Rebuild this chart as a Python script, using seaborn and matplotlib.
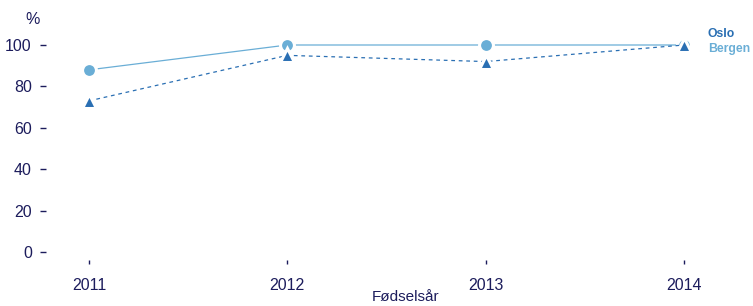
import matplotlib
matplotlib.use("Agg")
import matplotlib.pyplot as plt
import seaborn as sns
import pandas as pd

years = [2011, 2012, 2013, 2014]
oslo = [73, 95, 92, 100]
bergen = [88, 100, 100, 100]
series_names = ["Bergen", "Oslo"]
yticks = [0, 20, 40, 60, 80, 100]

navy = "#1c1c5c"
c_oslo = "#2a6fb3"
c_bergen = "#6aaed6"

df = pd.DataFrame({
    "year": years * 2,
    "value": bergen + oslo,
    "city": ["Bergen"] * len(years) + ["Oslo"] * len(years),
})

sns.set_theme(style="white")
plt.rcParams["font.family"] = ["Liberation Sans", "DejaVu Sans"]

fig = plt.figure(figsize=(7.53, 3.06), dpi=100)
W, H = 753, 306
left_px, right_px = 54, 684
top_px, bot_px = 45, 252
ax = fig.add_axes([left_px / W, 1 - bot_px / H, (right_px - left_px) / W, (bot_px - top_px) / H])

sns.lineplot(
    data=df, x="year", y="value", hue="city", style="city",
    hue_order=series_names, style_order=series_names,
    palette={"Oslo": c_oslo, "Bergen": c_bergen},
    markers={"Oslo": "^", "Bergen": "o"},
    dashes={"Oslo": (3, 3), "Bergen": ""},
    linewidth=0.9, legend=False, ax=ax,
)
for ln in ax.lines:
    ln.set_clip_on(False)
    ln.set_markersize(10)
    ln.set_markeredgecolor("white")
    ln.set_markeredgewidth(2.2)

x0 = 2011 - (89 - left_px) / 198.3
ax.set_xlim(x0, 2014)
ax.set_ylim(0, 100)
ax.set_xticks(years)
ax.set_xticklabels([str(y) for y in years])
ax.set_yticks(yticks)
ax.set_yticklabels([str(v) for v in yticks])
for s in ax.spines.values():
    s.set_visible(False)
ax.spines["bottom"].set_position(("outward", 6))
ax.spines["left"].set_position(("outward", 6))
ax.tick_params(axis="y", left=True, length=4, width=1, color=navy, labelcolor=navy,
               labelsize=11.5, pad=6, direction="out")
ax.tick_params(axis="x", bottom=True, length=3, width=1, color=navy, labelcolor=navy,
               labelsize=11.5, pad=10, direction="out")
ax.set_xlabel("")
ax.set_ylabel("")
ax.grid(False)

fig.text(33 / W, 1 - 19 / H, "%", color=navy, fontsize=11.5, ha="center", va="center")
fig.text(406 / W, 1 - 297 / H, "Fødselsår", color=navy, fontsize=11, ha="center", va="center")
fig.text(708 / W, 1 - 34 / H, "Oslo", color=c_oslo, fontsize=8.8, fontweight="bold", ha="left", va="center")
fig.text(708 / W, 1 - 49 / H, "Bergen", color=c_bergen, fontsize=8.8, fontweight="bold", ha="left", va="center")

fig.savefig("out.png", dpi=100)
